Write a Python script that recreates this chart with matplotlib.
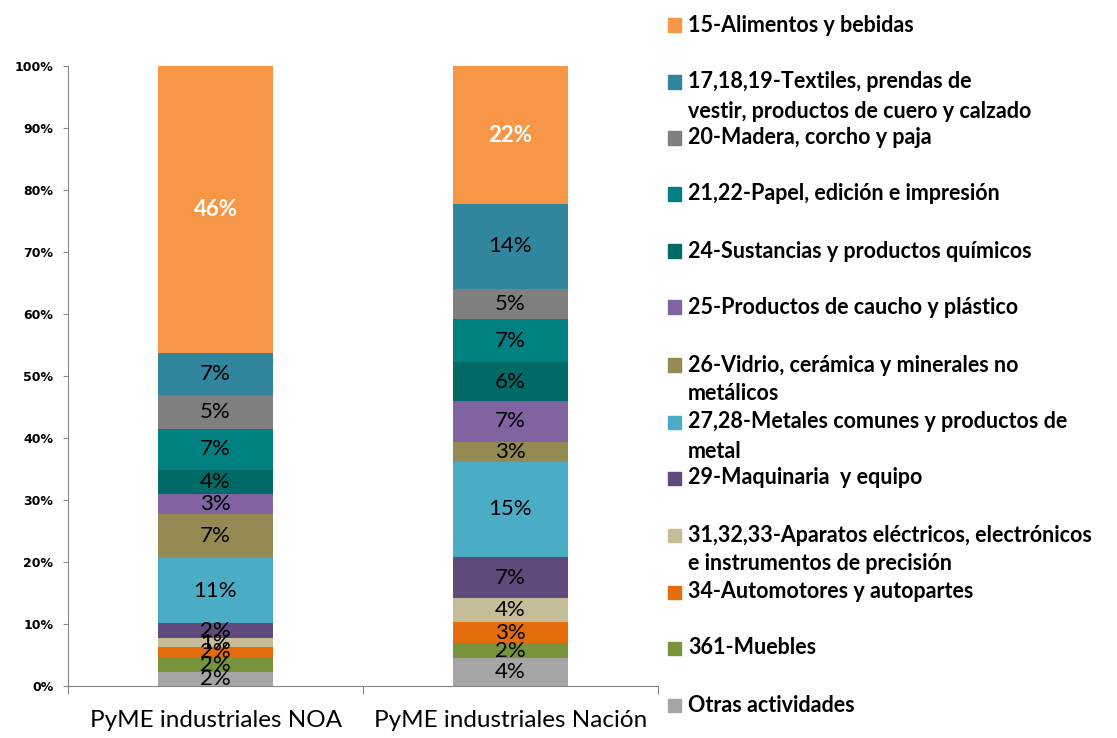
import matplotlib.pyplot as plt
from matplotlib.patches import Rectangle

# Data (shares in %, bottom to top)
categories = ['PyME industriales NOA', 'PyME industriales Nación']
sectors = [
    'Otras actividades',
    '361-Muebles',
    '34-Automotores y autopartes',
    '31,32,33-Aparatos eléctricos, electrónicos\ne instrumentos de precisión',
    '29-Maquinaria  y equipo',
    '27,28-Metales comunes y productos de\nmetal',
    '26-Vidrio, cerámica y minerales no\nmetálicos',
    '25-Productos de caucho y plástico',
    '24-Sustancias y productos químicos',
    '21,22-Papel, edición e impresión',
    '20-Madera, corcho y paja',
    '17,18,19-Textiles, prendas de\nvestir, productos de cuero y calzado',
    '15-Alimentos y bebidas',
]
noa = [2.3, 2.3, 1.7, 1.4, 2.4, 10.6, 7.0, 3.2, 4.0, 6.6, 5.4, 6.8, 46.3]
nacion = [4.45, 2.45, 3.4, 3.9, 6.6, 15.4, 3.2, 6.6, 6.2, 7.0, 4.9, 13.6, 22.3]
colors = ['#A5A5A5', '#77933C', '#E46C0A', '#C4BD97', '#604A7B', '#4BACC6',
          '#948A54', '#8064A2', '#006B66', '#008080', '#7F7F7F', '#31859C',
          '#F79646']
yticks = [0, 10, 20, 30, 40, 50, 60, 70, 80, 90, 100]

W, H = 1117, 738
fig = plt.figure(figsize=(W / 100, H / 100), dpi=100)
ax = fig.add_axes([68 / W, 52 / H, 590 / W, 620 / H])

values = [noa, nacion]
for i, vals in enumerate(values):
    bottom = 0
    for j, v in enumerate(vals):
        ax.bar(i, v, bottom=bottom, width=0.39, color=colors[j], linewidth=0)
        top = j == len(vals) - 1
        ax.text(i, bottom + v / 2, f'{round(v):d}%', ha='center', va='center',
                fontsize=16, family='Lato', color='white' if top else 'black',
                fontweight='bold' if top else 'normal')
        bottom += v

ax.set_xlim(-0.5, 1.5)
ax.set_ylim(0, 100)
ax.set_yticks(yticks)
ax.set_yticklabels([f'{t}%' for t in yticks], fontsize=9, fontweight='bold',
                   family='DejaVu Sans')
ax.tick_params(axis='y', length=3.6, color='#868686', pad=7)
ax.set_xticks([-0.5, 0.5, 1.5])
ax.set_xticklabels([])
ax.tick_params(axis='x', length=6, color='#868686', direction='out')
for k, c in enumerate(categories):
    ax.text(k, -3.8, c, ha='center', va='top', fontsize=17.5, family='Lato')
for s in ['top', 'right']:
    ax.spines[s].set_visible(False)
for s in ['left', 'bottom']:
    ax.spines[s].set_color('#868686')

# Manual legend on the right
marker_y = [705, 648, 592, 535, 478, 422, 365, 307, 251, 194, 138, 82, 25]
for name, col, y in zip(sectors, colors, marker_y):
    fig.patches.append(Rectangle((668 / W, 1 - (y + 6.5) / H), 13 / W, 13 / H,
                                 transform=fig.transFigure, color=col))
    for n, line in enumerate(name.split('\n')):
        fig.text(688 / W, 1 - (y + 29 * n) / H, line, ha='left', va='center',
                 fontsize=15.5, fontweight='bold', family='Lato')

fig.savefig('out.png', dpi=100)
